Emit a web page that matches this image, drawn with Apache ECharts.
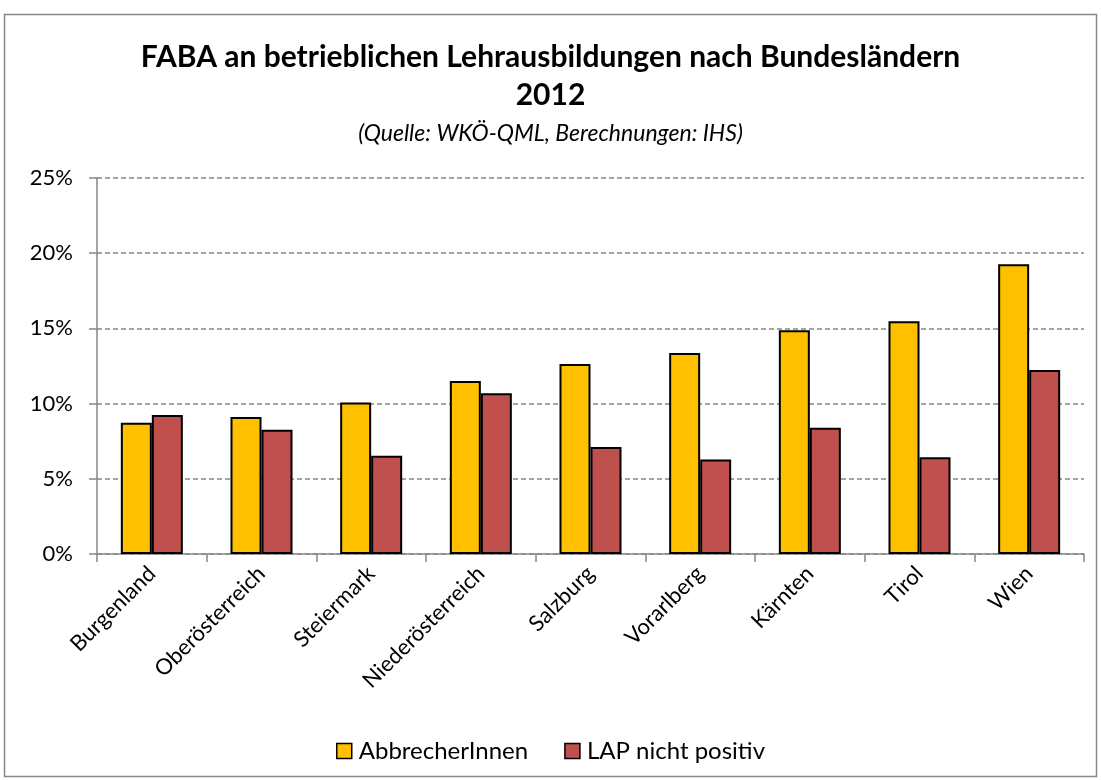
<!DOCTYPE html>
<html><head><meta charset="utf-8">
<script src="https://cdn.jsdelivr.net/npm/echarts@6/dist/echarts.min.js"></script>
<style>html,body{margin:0;padding:0;background:#fff}#c{width:1101px;height:780px}</style>
</head><body><div id="c"></div>
<script>
const categories = ['Burgenland','Oberösterreich','Steiermark','Niederösterreich','Salzburg','Vorarlberg','Kärnten','Tirol','Wien'];
const abbrecher = [8.73, 9.11, 10.07, 11.5, 12.64, 13.36, 14.87, 15.47, 19.27];
const lapNichtPositiv = [9.24, 8.26, 6.54, 10.69, 7.11, 6.29, 8.4, 6.44, 12.24];
const yTicks = [0, 5, 10, 15, 20, 25];

const font = 'Lato, "Open Sans", sans-serif';
const chart = echarts.init(document.getElementById('c'));
chart.setOption({
  animation: false,
  textStyle: { fontFamily: font, color: '#000' },
  graphic: [
    { type: 'rect', shape: { x: 4.5, y: 14.5, width: 1092, height: 762 }, style: { fill: 'none', stroke: '#868686', lineWidth: 1.5 }, z: -1 },
    { type: 'text', left: 'center', top: 42, style: { text: 'FABA an betrieblichen Lehrausbildungen nach Bundesländern', font: 'bold 30px ' + font, fill: '#000' } },
    { type: 'text', left: 'center', top: 80, style: { text: '2012', font: 'bold 30px ' + font, fill: '#000' } },
    { type: 'text', left: 'center', top: 122, style: { text: '(Quelle: WKÖ-QML, Berechnungen: IHS)', font: 'italic 23px ' + font, fill: '#000' } }
  ],
  legend: {
    top: 734, left: 'center', itemWidth: 15, itemHeight: 15, itemGap: 36,
    textStyle: { fontSize: 24, fontFamily: font, color: '#000', padding: [0, 0, 0, 2] },
    data: [
      { name: 'AbbrecherInnen', icon: 'rect', itemStyle: { borderColor: '#000', borderWidth: 1.5 } },
      { name: 'LAP nicht positiv', icon: 'rect', itemStyle: { borderColor: '#000', borderWidth: 1.5 } }
    ]
  },
  grid: { left: 97, right: 17, top: 178, bottom: 226, containLabel: false },
  xAxis: {
    type: 'category', data: categories,
    axisLine: { lineStyle: { color: '#868686', width: 1.5 } },
    axisTick: { show: true, length: 8, lineStyle: { color: '#868686', width: 1.5 } },
    axisLabel: { rotate: 45, fontSize: 22, color: '#000', fontFamily: font, margin: 16 }
  },
  yAxis: {
    type: 'value', min: 0, max: 25, interval: 5,
    axisLine: { show: true, lineStyle: { color: '#868686', width: 1.5 } },
    axisTick: { show: true, length: 8, lineStyle: { color: '#868686', width: 1.5 } },
    axisLabel: { fontSize: 22, color: '#000', fontFamily: font, margin: 24, formatter: v => yTicks.includes(v) ? v + '%' : '' },
    splitLine: { show: true, lineStyle: { color: '#868686', type: [5, 3], width: 1.5 } }
  },
  series: [
    { name: 'AbbrecherInnen', type: 'bar', data: abbrecher, barWidth: 31, barGap: '0%',
      itemStyle: { color: '#FFC000', borderColor: '#000', borderWidth: 2 } },
    { name: 'LAP nicht positiv', type: 'bar', data: lapNichtPositiv, barWidth: 31, barGap: '0%',
      itemStyle: { color: '#C0504D', borderColor: '#000', borderWidth: 2 } }
  ]
});
</script></body></html>
